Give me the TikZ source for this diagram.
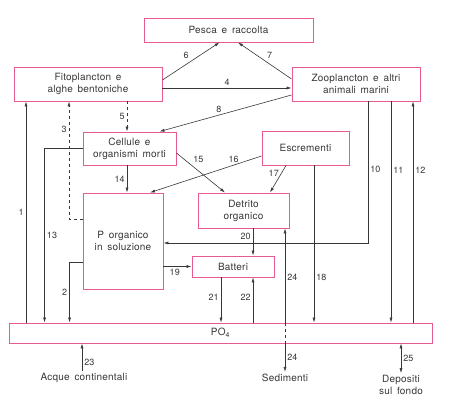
\documentclass[tikz,border=0pt]{standalone}
\usepackage{fontspec}
\setmainfont{TeX Gyre Heros}[LetterSpace=2,WordSpace=1.6]
\usepackage{tikz}
\usetikzlibrary{arrows.meta,positioning,calc}
\definecolor{Pink}{RGB}{232,90,145}
\definecolor{Ink}{RGB}{55,55,55}

\begin{document}
\begin{tikzpicture}[x=1pt,y=-1pt,
  box/.style={draw=Pink,line width=0.9pt,inner sep=0pt,align=center,text=Ink},
  lnk/.style={draw=Ink,line width=0.6pt},
  arr/.style={lnk,-{Latex[length=5pt,width=3pt]}},
  lbl/.style={font=\small,text=Ink,inner sep=2pt},
  txt/.style={align=center,text=Ink,inner sep=2pt}]
\useasboundingbox (0,0) rectangle (450,409);
% compartments
\node[box,minimum width=169pt,minimum height=24pt] (pesca) at (228.5,30) {Pesca e raccolta};
\node[box,minimum width=148pt,minimum height=34pt] (fito) at (88,84) {Fitoplancton e\\alghe bentoniche};
\node[box,minimum width=128pt,minimum height=34pt] (zoo) at (356,84) {Zooplancton e altri\\animali marini};
\node[box,minimum width=93pt,minimum height=33pt] (cell) at (129.5,148.5) {Cellule e\\organismi morti};
\node[box,minimum width=87pt,minimum height=34pt] (esc) at (305.5,148) {Escrementi};
\node[box,minimum width=91pt,minimum height=35pt] (det) at (243.5,210.5) {Detrito\\organico};
\node[box,minimum width=80pt,minimum height=96pt] (porg) at (123,241) {P organico\\in soluzione};
\node[box,minimum width=82pt,minimum height=21pt] (bat) at (233,266.5) {Batteri};
\node[box,minimum width=423pt,minimum height=20pt] (po4) at (220.5,333) {PO\textsubscript{4}};
% sources and sinks
\node[txt] (acq) at (84,378) {Acque continentali};
\node[txt] (sed) at (285,378) {Sedimenti};
\node[txt] (dep) at (401,385) {Depositi\\sul fondo};

% fluxes
\draw[arr] ([yshift=4pt]fito.east) -- node[lbl,midway,above left] (n6) {6} ([xshift=-9pt]pesca.south);
\draw[arr] ([yshift=5pt]zoo.west) -- node[lbl,midway,above right] (n7) {7} ([xshift=9.5pt]pesca.south);
\draw[arr] ([yshift=-4pt]fito.east) -- node[lbl,midway,above] (n4) {4} ([yshift=-4pt]zoo.west);
\draw[arr] ([yshift=-11pt]zoo.west) -- node[lbl,pos=0.55,above] (n8) {8} ([xshift=30pt]cell.north);
\draw[arr,dashed] ([xshift=39pt]fito.south) coordinate (a5) -- node[lbl,midway,left] (n5) {5} (a5 |- cell.north);
\draw[arr,dashed] ([yshift=22pt]porg.west) -| node[lbl,pos=0.88,left] (n3) {3} ([xshift=-19pt]fito.south);
\coordinate (a1) at ([xshift=-62pt]fito.south);
\draw[arr] (po4.north -| a1) -- node[lbl,midway,left] (n1) {1} (a1);
\draw[lnk] (cell.west) -- ++(-38,0) coordinate (c13);
\draw[arr] (c13) -- node[lbl,midway,right] (n13) {13} (c13 |- po4.north);
\draw[lnk] ([yshift=-21pt]porg.west) -- ++(-13,0) coordinate (c2);
\draw[arr] (c2) -- node[lbl,midway,left] (n2) {2} (c2 |- po4.north);
\draw[arr] ([xshift=-2.5pt]cell.south) coordinate (a14) -- node[lbl,midway,left] (n14) {14} (a14 |- porg.north);
\draw[arr] ([yshift=-4.5pt]cell.east) -- node[lbl,pos=0.3,above right] (n15) {15} ([xshift=-18.5pt]det.north);
\draw[arr] ([yshift=-8pt]esc.west) -- node[lbl,pos=0.25,above] (n16) {16} ([xshift=27pt]porg.north);
\draw[arr] ([xshift=-19.5pt]esc.south) -- node[lbl,pos=0.3,left] (n17) {17} ([xshift=26.5pt]det.north);
\draw[arr] ([xshift=9.5pt]det.south) coordinate (a20) -- node[lbl,pos=0.3,left] (n20) {20} (a20 |- bat.north);
\draw[arr] ([xshift=12pt]zoo.south) |- node[lbl,pos=0.24,right] (n10) {10} ([yshift=-2pt]porg.east);
\draw[arr] ([xshift=35pt]zoo.south) coordinate (a11) -- node[lbl,pos=0.31,right] (n11) {11} (a11 |- po4.north);
\coordinate (a12) at ([xshift=57pt]zoo.south);
\draw[arr] (po4.north -| a12) -- node[lbl,pos=0.69,right] (n12) {12} (a12);
\draw[arr] ([xshift=8.5pt]esc.south) coordinate (a18) -- node[lbl,pos=0.71,right] (n18) {18} (a18 |- po4.north);
\draw[arr] (porg.east |- bat.west) -- node[lbl,pos=0.4,below] (n19) {19} (bat.west);
\draw[arr] ([xshift=-12pt]bat.south) coordinate (a21) -- node[lbl,pos=0.43,left] (n21) {21} (a21 |- po4.north);
\coordinate (a22) at ([xshift=20pt]bat.south);
\draw[arr] (po4.north -| a22) -- node[lbl,pos=0.57,left] (n22) {22} (a22);
% exchanges with the outside
\coordinate (a24) at ([xshift=41.5pt]det.south);
\draw[arr] (po4.north -| a24) -- node[lbl,pos=0.48,right] (n24) {24} (a24);
\draw[lnk,dashed] (po4.north -| a24) -- (po4.south -| a24);
\draw[arr] (po4.south -| a24) -- node[lbl,midway,right] (m24) {24} (a24 |- sed.north);
\draw[arr] ([xshift=-2pt]acq.north) coordinate (a23) -- node[lbl,pos=0.3,right] (n23) {23} (a23 |- po4.south);
\draw[lnk,{Latex[length=5pt,width=3pt]}-{Latex[length=5pt,width=3pt]}] (dep.north) -- node[lbl,midway,right] (n25) {25} (dep.north |- po4.south);
\end{tikzpicture}
\end{document}
